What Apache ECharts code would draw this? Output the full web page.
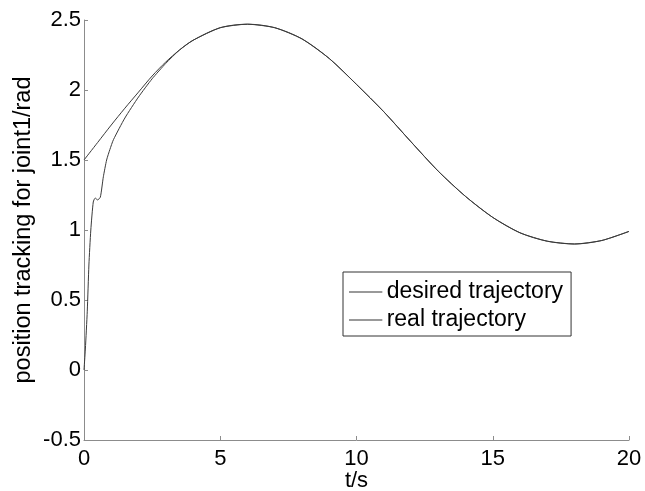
<!DOCTYPE html>
<html>
<head>
<meta charset="utf-8">
<script src="https://cdn.jsdelivr.net/npm/echarts@6/dist/echarts.min.js"></script>
<style>
html,body{margin:0;padding:0;background:#fff;}
#chart{width:645px;height:491px;}
</style>
</head>
<body>
<div id="chart"></div>
<script>
// Desired trajectory
const desiredT = [0, 0.5, 1, 1.5, 2, 2.5, 3, 3.5, 4, 5, 6, 7, 8, 9, 10, 11, 12, 13, 14, 15, 16, 17, 18, 19, 20];
const desiredV = [1.50, 1.625, 1.75, 1.87, 1.985, 2.10, 2.20, 2.285, 2.355, 2.445, 2.47, 2.445, 2.365, 2.225, 2.04, 1.845, 1.63, 1.42, 1.24, 1.09, 0.98, 0.92, 0.90, 0.925, 0.99];
// Real trajectory
const realT = [0, 0.05, 0.12, 0.18, 0.25, 0.34, 0.41, 0.5, 0.6, 0.71, 0.83, 0.95, 1.08, 1.5, 2, 2.5, 3, 3.5, 4, 5, 6, 7, 8, 9, 10, 11, 12, 13, 14, 15, 16, 17, 18, 19, 20];
const realV = [0.0, 0.15, 0.42, 0.75, 1.0, 1.2, 1.228, 1.215, 1.235, 1.38, 1.50, 1.575, 1.645, 1.80, 1.95, 2.08, 2.19, 2.285, 2.355, 2.445, 2.47, 2.445, 2.365, 2.225, 2.04, 1.845, 1.63, 1.42, 1.24, 1.09, 0.98, 0.92, 0.90, 0.925, 0.99];
const xTicks = [0, 5, 10, 15, 20];
const yTicks = [-0.5, 0, 0.5, 1, 1.5, 2, 2.5];
const seriesNames = ['desired trajectory', 'real trajectory'];

const desiredData = desiredT.map((t, i) => [t, desiredV[i]]);
const realData = realT.map((t, i) => [t, realV[i]]);

const FONT = '"Liberation Sans", Arial, Helvetica, sans-serif';
const chart = echarts.init(document.getElementById('chart'), null, {renderer: 'canvas'});
chart.setOption({
  animation: false,
  backgroundColor: '#fff',
  grid: {left: 84, right: 16, top: 20, bottom: 51, containLabel: false, outerBoundsMode: 'none'},
  xAxis: {
    type: 'value', min: xTicks[0], max: xTicks[xTicks.length - 1], interval: 5,
    name: 't/s', nameLocation: 'middle', nameGap: 30, nameMoveOverlap: false,
    nameTextStyle: {color: '#000', fontSize: 22, fontFamily: FONT},
    axisLine: {show: true, onZero: false, lineStyle: {color: '#8c8c8c', width: 1}},
    axisTick: {show: true, inside: true, length: 4, lineStyle: {color: '#8c8c8c'}},
    axisLabel: {color: '#000', fontSize: 22, fontFamily: FONT, margin: 8},
    splitLine: {show: false}
  },
  yAxis: {
    type: 'value', min: yTicks[0], max: yTicks[yTicks.length - 1], interval: 0.5,
    name: 'position tracking for joint1/rad', nameLocation: 'middle', nameGap: 48, nameMoveOverlap: false,
    nameTextStyle: {color: '#000', fontSize: 23.5, fontFamily: FONT},
    axisLine: {show: true, onZero: false, lineStyle: {color: '#8c8c8c', width: 1}},
    axisTick: {show: true, inside: true, length: 4, lineStyle: {color: '#8c8c8c'}},
    axisLabel: {color: '#000', fontSize: 22, fontFamily: FONT, margin: 3},
    splitLine: {show: false}
  },
  legend: {
    orient: 'vertical', left: 343, top: 272,
    data: seriesNames,
    icon: 'path://M0,0 L1,0 L1,0.06 L0,0.06 Z',
    itemWidth: 34, itemHeight: 2, itemGap: 4,
    padding: [8, 8, 4, 6],
    borderColor: '#333', borderWidth: 1,
    itemStyle: {color: '#999'},
    textStyle: {color: '#000', fontSize: 23, fontFamily: FONT, lineHeight: 24, padding: [0, 0, 0, -1]}
  },
  series: [
    {name: seriesNames[0], type: 'line', data: desiredData, smooth: 0.3, symbol: 'none',
     lineStyle: {color: '#3a3a3a', width: 1}, itemStyle: {color: '#999'}},
    {name: seriesNames[1], type: 'line', data: realData, smooth: 0.2, symbol: 'none',
     lineStyle: {color: '#3a3a3a', width: 1}, itemStyle: {color: '#999'}}
  ]
});
</script>
</body>
</html>
